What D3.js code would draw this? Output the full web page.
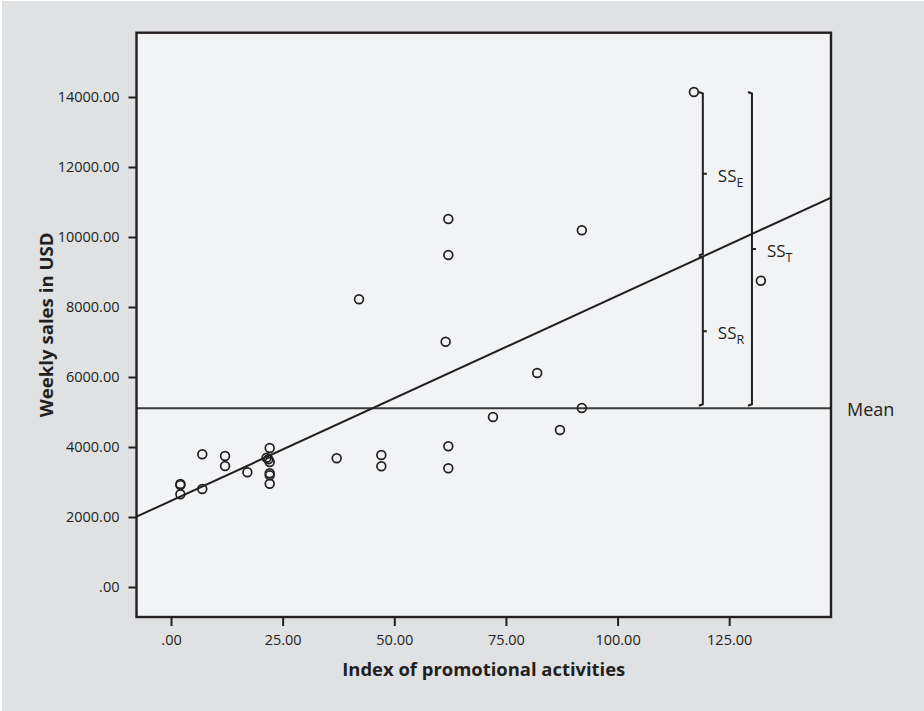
<!DOCTYPE html>
<html>
<head>
<meta charset="utf-8">
<script src="https://cdn.jsdelivr.net/npm/d3@7"></script>
<style>
  html, body { margin: 0; padding: 0; background: #ffffff; }
  svg { display: block; }
</style>
</head>
<body>
<div id="chart"></div>
<script>
// ---- Data ----
const promo = [2.1, 2.1, 2.1, 7.0, 7.0, 12.1, 12.1, 17.1, 22.1, 21.4, 21.8, 22.1, 22.1, 22.1, 22.1,
               37.1, 42.1, 47.1, 47.1, 61.5, 62.1, 62.1, 62.1, 62.1, 72.1, 82.0, 87.1, 92.0, 92.0, 117.1, 132.1];
const sales = [2943, 2910, 2648, 3791, 2800, 3743, 3457, 3277, 3971, 3694, 3650, 3571, 3249, 3191, 2951,
               3677, 8220, 3771, 3448, 7009, 10514, 9486, 4020, 3391, 4857, 6114, 4486, 10191, 5114, 14143, 8751];
const meanSales = 5106;
const regIntercept = 2462;
const regSlope = 58.6;
const xTicks = [0, 25, 50, 75, 100, 125];
const xTickLabels = [".00", "25.00", "50.00", "75.00", "100.00", "125.00"];
const yTicks = [0, 2000, 4000, 6000, 8000, 10000, 12000, 14000];
const yTickLabels = [".00", "2000.00", "4000.00", "6000.00", "8000.00", "10000.00", "12000.00", "14000.00"];
const xDomain = [-7.73, 147.8];
const yDomain = [-857, 15837];
// braces: x position (promo units), top value
const braceInnerX = 119.1;
const braceOuterX = 130.1;
const braceTop = 14143;
const xTitle = "Index of promotional activities";
const yTitle = "Weekly sales in USD";

// ---- Layout ----
const W = 924, H = 711;
const frame = { left: 136.5, top: 32.7, right: 831, bottom: 617 };
const ink = "#231f20";

const svg = d3.select("#chart").append("svg").attr("width", W).attr("height", H);

svg.append("rect").attr("x", 2).attr("y", 1).attr("width", W - 2).attr("height", H - 1).attr("fill", "#e0e1e3");
svg.append("rect")
  .attr("x", frame.left).attr("y", frame.top)
  .attr("width", frame.right - frame.left).attr("height", frame.bottom - frame.top)
  .attr("fill", "#f2f3f5");

const x = d3.scaleLinear().domain(xDomain).range([frame.left, frame.right]);
const y = d3.scaleLinear().domain(yDomain).range([frame.bottom, frame.top]);

const font = "'Open Sans', 'DejaVu Sans', sans-serif";

// axes
const xAxis = d3.axisBottom(x).tickValues(xTicks).tickSizeOuter(0).tickSize(9).tickPadding(9)
  .tickFormat((d, i) => xTickLabels[i]);
const gx = svg.append("g").attr("transform", `translate(0,${frame.bottom})`).call(xAxis);
gx.select(".domain").remove();
gx.selectAll(".tick line").attr("stroke", ink).attr("stroke-width", 2);
gx.selectAll(".tick text").attr("fill", ink).style("font-family", font).style("font-size", "14.5px");

const yAxis = d3.axisLeft(y).tickValues(yTicks).tickSizeOuter(0).tickSize(8).tickPadding(9)
  .tickFormat((d, i) => yTickLabels[i]);
const gy = svg.append("g").attr("transform", `translate(${frame.left},0)`).call(yAxis);
gy.select(".domain").remove();
gy.selectAll(".tick line").attr("stroke", ink).attr("stroke-width", 2);
gy.selectAll(".tick text").attr("fill", ink).style("font-family", font).style("font-size", "14.5px");

// clip for lines inside frame
svg.append("clipPath").attr("id", "clip").append("rect")
  .attr("x", frame.left).attr("y", frame.top)
  .attr("width", frame.right - frame.left).attr("height", frame.bottom - frame.top);

const plot = svg.append("g").attr("clip-path", "url(#clip)");

// mean line
plot.append("line")
  .attr("x1", x(xDomain[0])).attr("x2", x(xDomain[1]))
  .attr("y1", y(meanSales)).attr("y2", y(meanSales))
  .attr("stroke", "#3a3a3a").attr("stroke-width", 2);

// regression line
const regLine = d3.line().x(d => x(d)).y(d => y(regIntercept + regSlope * d));
plot.append("path").datum(xDomain).attr("d", regLine)
  .attr("fill", "none").attr("stroke", ink).attr("stroke-width", 2);

// braces
function brace(xv, v1, v2, endOffset) {
  const bx = x(xv);
  const yTop = y(v1), yBot = y(v2) - endOffset;
  const mid = (yTop + yBot) / 2;
  const p = d3.path();
  p.moveTo(bx - 4, yTop); p.lineTo(bx, yTop + 1.5);
  p.lineTo(bx, yBot - 1.5); p.lineTo(bx - 4, yBot);
  p.moveTo(bx, mid); p.lineTo(bx + 4, mid);
  plot.append("path").attr("d", p.toString())
    .attr("fill", "none").attr("stroke", ink).attr("stroke-width", 2);
  return { x: bx, mid: mid };
}
const regAtInner = regIntercept + regSlope * braceInnerX;
const bE = brace(braceInnerX, braceTop, regAtInner, 1);
const bR = brace(braceInnerX, regAtInner, meanSales, 2.5);
const bT = brace(braceOuterX, braceTop, meanSales, 2.5);

function ssLabel(b, sub) {
  const t = svg.append("text").attr("x", b.x + 15).attr("y", b.mid + 8)
    .attr("fill", ink).style("font-family", font).style("font-size", "17px").text("SS");
  t.append("tspan").attr("dy", 5).style("font-size", "12.5px").text(sub);
}
ssLabel(bE, "E");
ssLabel(bR, "R");
ssLabel(bT, "T");

// points
plot.selectAll("circle.pt").data(promo.map((p, i) => [p, sales[i]])).join("circle")
  .attr("class", "pt")
  .attr("cx", d => x(d[0])).attr("cy", d => y(d[1])).attr("r", 4.4)
  .attr("fill", "none").attr("stroke", ink).attr("stroke-width", 1.7);

// frame
svg.append("rect")
  .attr("x", frame.left).attr("y", frame.top)
  .attr("width", frame.right - frame.left).attr("height", frame.bottom - frame.top)
  .attr("fill", "none").attr("stroke", ink).attr("stroke-width", 2.4);

// Mean label
svg.append("text").attr("x", frame.right + 16).attr("y", y(meanSales) + 8)
  .attr("fill", ink).style("font-family", font).style("font-size", "18px").text("Mean");

// axis titles
svg.append("text")
  .attr("x", (frame.left + frame.right) / 2).attr("y", 676)
  .attr("text-anchor", "middle").attr("fill", ink)
  .attr("textLength", 283).attr("lengthAdjust", "spacingAndGlyphs")
  .style("font-family", font).style("font-size", "18px").style("font-weight", 700)
  .text(xTitle);

svg.append("text")
  .attr("transform", `translate(53,${(frame.top + frame.bottom) / 2}) rotate(-90)`)
  .attr("text-anchor", "middle").attr("fill", ink)
  .attr("textLength", 185).attr("lengthAdjust", "spacingAndGlyphs")
  .style("font-family", font).style("font-size", "18px").style("font-weight", 700)
  .text(yTitle);
</script>
</body>
</html>
